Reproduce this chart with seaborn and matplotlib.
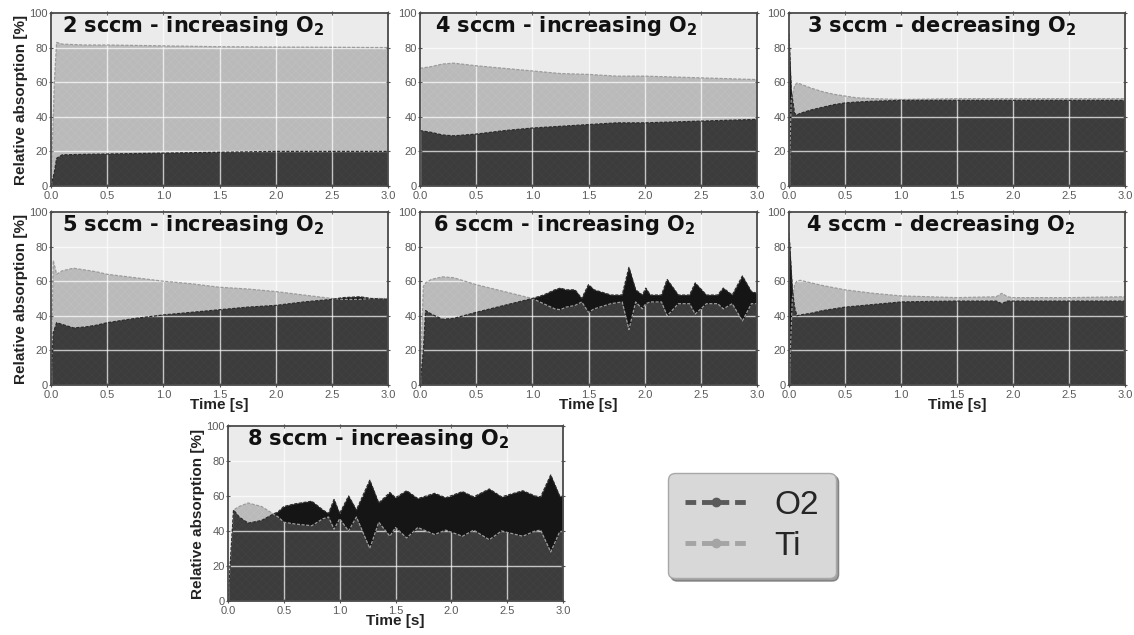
import numpy as np
import matplotlib
matplotlib.use("Agg")
import matplotlib.pyplot as plt
from matplotlib.lines import Line2D
import seaborn as sns

# ---------------- data ----------------
titles = ["2 sccm - increasing O$_2$", "4 sccm - increasing O$_2$", "3 sccm - decreasing O$_2$",
          "5 sccm - increasing O$_2$", "6 sccm - increasing O$_2$", "4 sccm - decreasing O$_2$",
          "8 sccm - increasing O$_2$"]

t_2inc = [0, 0.03, 0.05, 0.1, 0.3, 0.5, 1.0, 1.5, 2.0, 2.5, 3.0]
o2_2inc = [0, 8, 16, 18, 18.3, 18.5, 19, 19.5, 20, 20, 20]
ti_2inc = [0, 60, 83, 82, 81.5, 81.5, 81, 80.5, 80.3, 80.2, 80]

t_4inc = [0, 0.1, 0.2, 0.3, 0.5, 0.75, 1.0, 1.25, 1.5, 1.75, 2.0, 2.5, 3.0]
o2_4inc = [32, 31, 29.5, 29, 30, 32, 33.5, 34.5, 35.5, 36.5, 36.5, 37.5, 38.5]
ti_4inc = [68, 69, 70.5, 71, 69.5, 68, 66.5, 65, 64.5, 63.5, 63.5, 62.5, 61.5]

t_3dec = [0, 0.02, 0.05, 0.07, 0.1, 0.2, 0.3, 0.4, 0.5, 0.6, 0.75, 1.0, 1.5, 2.0, 2.5, 3.0]
o2_3dec = [88, 55, 42, 41, 42, 44, 45.5, 47, 48, 48.5, 49, 49.5, 49.5, 49.5, 49.5, 49.5]
ti_3dec = [0, 50, 58, 59.5, 59, 56.5, 54.5, 53, 52, 51, 50.5, 50, 50.5, 50.5, 50.5, 50.5]

t_5inc = [0, 0.02, 0.05, 0.1, 0.2, 0.3, 0.4, 0.5, 0.75, 1.0, 1.25, 1.5, 1.75, 2.0, 2.25, 2.5, 2.6, 2.75, 2.85, 3.0]
o2_5inc = [0, 30, 36, 35, 33, 33.5, 34.5, 36, 38.5, 40.5, 42, 43.5, 45, 46, 48, 49.5, 50.5, 51, 50, 49.5]
ti_5inc = [0, 72, 64, 66, 67.5, 66.5, 65.5, 64, 62, 60, 58.5, 56.5, 55.5, 54, 52, 50, 49.5, 49.5, 50, 50]

t_6inc = [0, 0.03, 0.05, 0.1, 0.2, 0.3, 0.5, 0.75, 1.0, 1.1, 1.2, 1.25, 1.3, 1.38, 1.44, 1.5, 1.55,
          1.7, 1.8, 1.86, 1.92, 1.98, 2.01, 2.05, 2.15, 2.2, 2.3, 2.4, 2.45, 2.55, 2.65, 2.7, 2.78,
          2.87, 2.95, 3.0]
o2_6inc = [0, 20, 43, 41, 38, 38.5, 42, 46, 50, 52, 55, 56, 55, 55, 50, 58, 55,
           52, 52, 68, 55, 52, 56, 52, 52, 61, 52, 52, 59, 52, 52, 56, 52,
           63, 54, 53]
ti_6inc = [0, 57, 59, 61, 62.5, 62, 58, 54, 50, 47, 44, 43.5, 45, 46, 48, 42, 44,
           47, 48, 32, 48, 44, 47, 48, 48, 40, 47, 47, 41, 47, 47, 44, 47,
           37, 47, 47]

t_4dec = [0, 0.03, 0.05, 0.07, 0.1, 0.2, 0.3, 0.5, 0.75, 1.0, 1.25, 1.5, 1.85, 1.9, 1.95, 2.0, 2.5, 3.0]
o2_4dec = [88, 55, 45, 40, 40.5, 41.5, 43, 45, 46.5, 48, 48.3, 48.5, 48.5, 47, 48.5, 48.5, 48.5, 48.5]
ti_4dec = [0, 50, 58, 60, 60.5, 59, 57.5, 55, 53, 51.5, 51, 50.5, 51, 53, 51, 50.5, 50.5, 51]

t_8inc = [0, 0.05, 0.1, 0.18, 0.3, 0.4, 0.45, 0.5, 0.6, 0.75, 0.85, 0.9, 0.95, 1.0, 1.08, 1.15,
          1.27, 1.35, 1.45, 1.5, 1.6, 1.7, 1.85, 1.95, 2.1, 2.2, 2.34, 2.45, 2.64, 2.75, 2.8,
          2.89, 2.97, 3.0]
o2_8inc = [0, 52, 48, 44.5, 46, 49.5, 51, 54, 55.5, 57, 52, 50, 58, 50, 60, 52,
           69, 56, 62, 59, 63, 58.5, 61.5, 59, 62.5, 59.5, 64, 59.5, 63, 60, 59.5,
           72, 60, 60]
ti_8inc = [0, 52, 54, 56, 54, 50, 48, 45, 44, 43, 47, 48, 41, 47, 40, 48,
           30, 45, 37, 42, 36, 42, 38, 40.5, 37, 40.5, 35, 40, 37, 40, 40.5,
           28, 39.5, 40]

x_ticks = [0.0, 0.5, 1.0, 1.5, 2.0, 2.5, 3.0]
y_ticks = [0, 20, 40, 60, 80, 100]
series_names = ["O2", "Ti"]

panels = [
    (t_2inc, o2_2inc, ti_2inc),
    (t_4inc, o2_4inc, ti_4inc),
    (t_3dec, o2_3dec, ti_3dec),
    (t_5inc, o2_5inc, ti_5inc),
    (t_6inc, o2_6inc, ti_6inc),
    (t_4dec, o2_4dec, ti_4dec),
    (t_8inc, o2_8inc, ti_8inc),
]

# ---------------- layout / style ----------------
W, H = 1134, 635
# (left, top, right, bottom) in pixels
boxes = [(51, 13, 388, 186), (420, 13, 757, 186), (789, 13, 1125, 186),
         (51, 212, 388, 385), (420, 212, 757, 385), (789, 212, 1125, 385),
         (228, 426, 563, 601)]
title_x = [0.033, 0.045, 0.054, 0.033, 0.04, 0.05, 0.057]
show_ylabel = [True, False, False, True, False, False, True]
show_xlabel = [False, False, False, True, True, True, True]

BG = "#ebebeb"
TI_FILL = "#bababa"
O2_FILL = "#3c3c3c"
OVER_FILL = "#151515"
TI_LINE = "#9c9c9c"
O2_LINE = "#2c2c2c"

sns.set_theme(style="darkgrid")
plt.rcParams["font.family"] = ["Liberation Sans", "DejaVu Sans"]
plt.rcParams["mathtext.default"] = "bf"
plt.rcParams["hatch.linewidth"] = 0.3

fig = plt.figure(figsize=(W / 100, H / 100), dpi=100)
fig.patch.set_facecolor("white")

for i, (t, o2, ti) in enumerate(panels):
    l, tp, r, b = boxes[i]
    ax = fig.add_axes([l / W, 1 - b / H, (r - l) / W, (b - tp) / H])
    ax.set_facecolor(BG)
    t = np.asarray(t, float)
    o2 = np.asarray(o2, float)
    ti = np.asarray(ti, float)

    ax.fill_between(t, 0, ti, facecolor=TI_FILL, edgecolor="#c3c3c3", hatch="xxxx", linewidth=0, zorder=1)
    ax.fill_between(t, 0, o2, facecolor=O2_FILL, edgecolor="#444444", hatch="xxxx", linewidth=0, zorder=2)
    ax.fill_between(t, ti, o2, where=o2 > ti, interpolate=True, facecolor=OVER_FILL,
                    linewidth=0, zorder=3)
    sns.lineplot(x=t, y=ti, ax=ax, color=TI_LINE, lw=0.9, ls=(0, (2.5, 1.2)), zorder=4)
    sns.lineplot(x=t, y=o2, ax=ax, color=O2_LINE, lw=0.9, ls=(0, (2.5, 1.2)), zorder=4)

    ax.set_xlim(0, 3)
    ax.set_ylim(0, 100)
    ax.set_xticks(x_ticks)
    ax.set_yticks(y_ticks)
    ax.set_xticklabels([f"{v:.1f}" for v in x_ticks])
    ax.set_yticklabels([str(v) for v in y_ticks])
    ax.grid(True, color="white", lw=1.0, alpha=0.7, zorder=5)
    ax.set_axisbelow(False)
    ax.tick_params(axis="both", which="both", direction="inout", length=3, width=0.8,
                   color="#555555", labelsize=8, labelcolor="#5a5a5a", pad=1,
                   top=True, right=True, bottom=True, left=True)
    ax.tick_params(axis="x", pad=2)
    for s in ax.spines.values():
        s.set_visible(True)
        s.set_color("#4a4a4a")
        s.set_linewidth(1.3)
        s.set_zorder(6)

    ax.text(title_x[i], 0.995, titles[i], transform=ax.transAxes, ha="left", va="top",
            fontsize=15, fontweight="bold", family="DejaVu Sans", color="#111111", zorder=7)

    if show_ylabel[i]:
        ax.set_ylabel("Relative absorption [%]", fontsize=11, fontweight="bold", color="#222222", labelpad=1)
    else:
        ax.set_ylabel("")
    if show_xlabel[i]:
        ax.set_xlabel("Time [s]", fontsize=11, fontweight="bold", color="#222222", labelpad=-1)
    else:
        ax.set_xlabel("")

handles = [
    Line2D([0], [0], color="#5a5a5a", lw=3.5, ls=(0, (2.2, 1.2)), marker="o", markersize=6,
           markerfacecolor="#5a5a5a", markeredgecolor="#5a5a5a"),
    Line2D([0], [0], color="#a4a4a4", lw=3.5, ls=(0, (2.2, 1.2)), marker="o", markersize=6,
           markerfacecolor="#a4a4a4", markeredgecolor="#a4a4a4"),
]
leg = fig.legend(handles, series_names, loc="upper left", bbox_to_anchor=(668 / W, 1 - 473 / H),
                 fontsize=24, frameon=True, fancybox=True, shadow=True, handlelength=1.9,
                 handletextpad=0.8, borderpad=0.5, labelspacing=0.3, borderaxespad=0)
leg.get_frame().set_facecolor("#d8d8d8")
leg.get_frame().set_edgecolor("#a8a8a8")
leg.get_frame().set_alpha(1)

fig.savefig("out.png", dpi=100, facecolor="white")
